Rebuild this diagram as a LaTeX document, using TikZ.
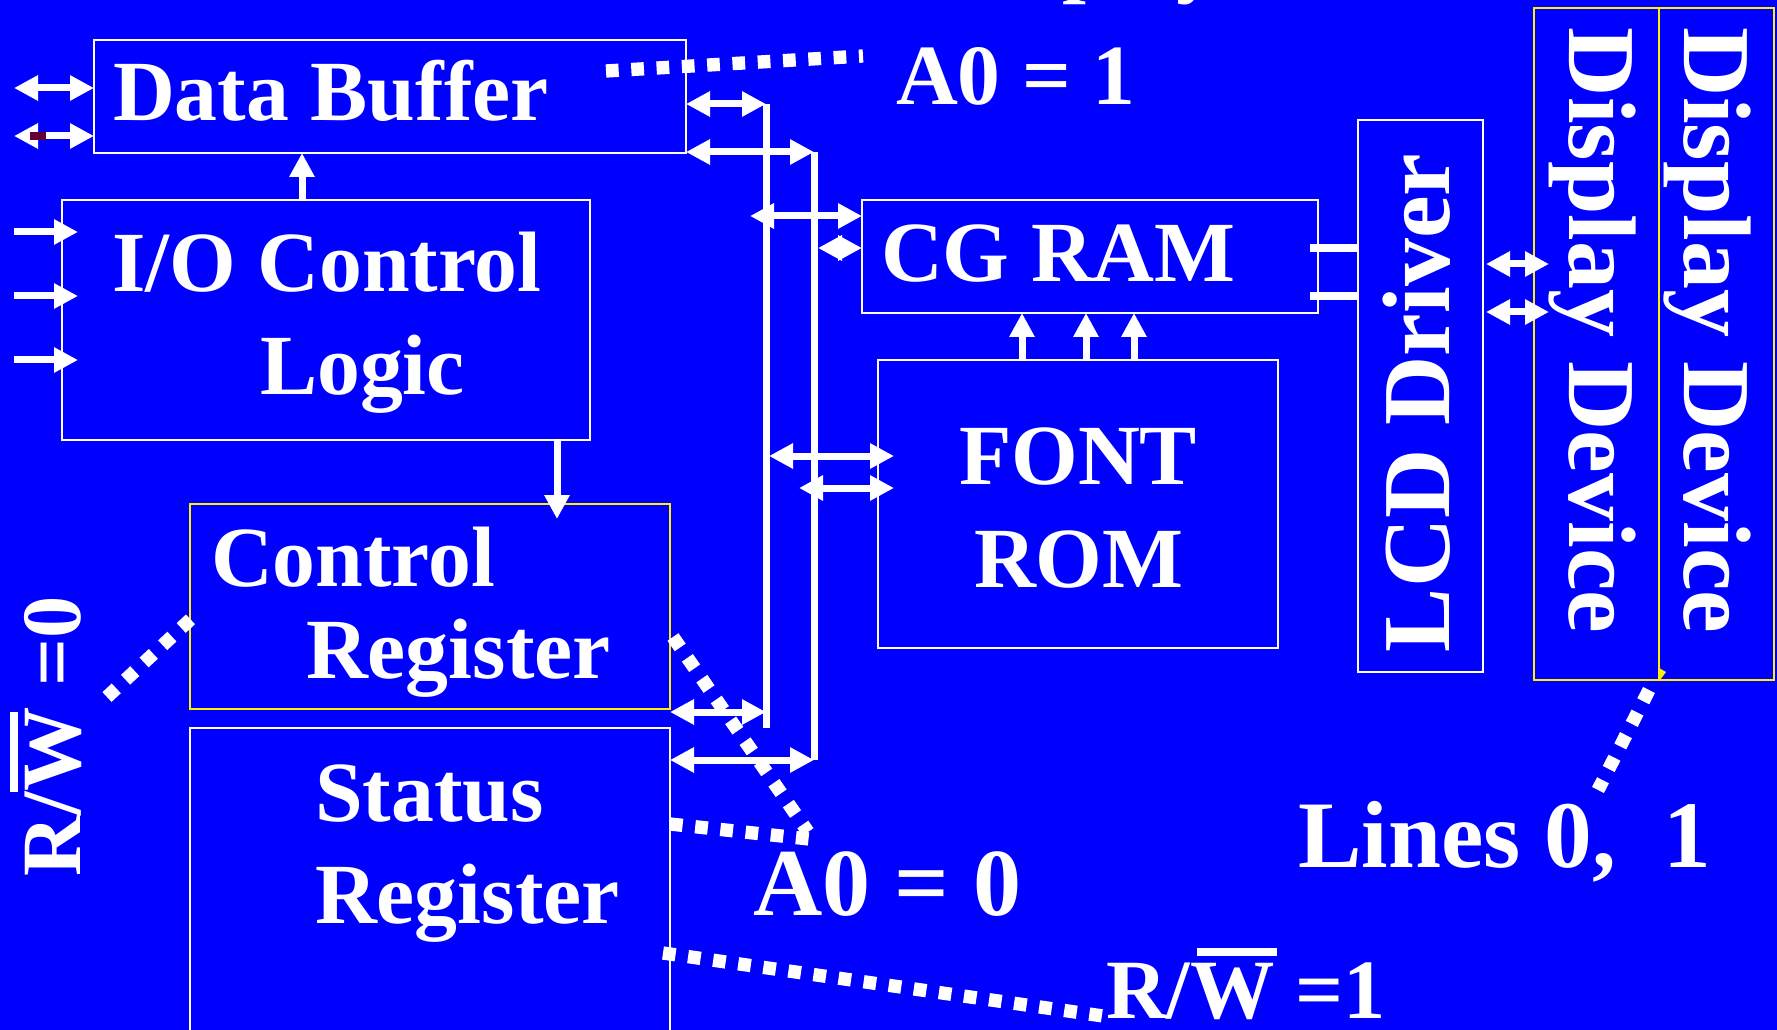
\documentclass[tikz,border=0pt]{standalone}
\usepackage{fontspec}
\usepackage{xcolor}
\usepackage{tikz}
\usetikzlibrary{arrows.meta}
\setmainfont{Liberation Serif}
\definecolor{stubred}{HTML}{660033}
\newcommand{\barW}[1]{\rlap{\hspace{#1}\rule[46.5pt]{60pt}{6pt}}W}
\tikzset{
	box/.style 2 args={draw=white, line width=1.5pt, inner sep=0pt, outer sep=0pt, anchor=north west, minimum width=#1*.75pt, minimum height=#2*.75pt},
	lbl/.style={text=white, inner sep=0pt, outer sep=0pt, anchor=base west, font=\fontsize{#1}{#1}\selectfont\bfseries},
	lbl/.default=64.3,
	bus/.style={draw=white, line width=5.25pt},
	stub/.style={draw=white, line width=6pt},
	dbl/.style={bus, {Triangle[length=18pt,width=18pt]}-{Triangle[length=18pt,width=18pt]}},
	sgl/.style={bus, -{Triangle[length=18pt,width=18pt]}},
	dots/.style={draw=white, line width=10pt, dash pattern=on 9.5pt off 9.5pt}
}
\begin{document}
\begin{tikzpicture}[x=.75pt, y=-.75pt]
	\useasboundingbox (0,0) rectangle (1777,1030);
	\fill[blue] (0,0) rectangle (1777,1030);
	\node[box={592}{113}] (bufbox) at (94,40) {};
	\node[box={528}{240}] (iobox) at (62,200) {};
	\node[box={480}{205}, draw=yellow] (ctlbox) at (190,504) {};
	\node[box={480}{340}] (statbox) at (190,728) {};
	\node[box={456}{113}] (cgbox) at (862,200) {};
	\node[box={400}{288}] (fontbox) at (878,360) {};
	\node[box={125}{552}] (lcdbox) at (1358,120) {};
	\node[box={125}{672}, draw=yellow] (disA) at (1534,8) {};
	\node[box={115}{672}, draw=yellow] (disB) at (1659,8) {};
	\node[lbl] (tbuf) at (113,121) {Data Buffer};
	\node[lbl] (tio) at (112,292) {I/O Control};
	\node[lbl] (tlog) at (260,394) {Logic};
	\node[lbl] (tctl) at (211,586) {Control};
	\node[lbl] (tctr) at (306,678) {Register};
	\node[lbl] (tsta) at (315,821) {Status};
	\node[lbl] (tstr) at (315,923) {Register};
	\node[lbl] (tcg) at (881,282) {CG RAM};
	\node[lbl] (tfon) at (959,484) {FONT};
	\node[lbl] (trom) at (974,587) {ROM};
	\node[lbl] (tao) at (896,105) {A0 = 1};
	\node[lbl] (ttop) at (943,-13) {Display};
	\node[lbl=72] (taz) at (753,915) {A0 = 0};
	\node[lbl=71.5] (tlin) at (1298,867) {Lines 0,\ \ 1};
	\node[lbl=63.3] (trwo) at (1106,1018) {R/\barW{5pt} =1};
	\node[lbl=63.3, rotate=90] (trwz) at (80,876) {R/\barW{0pt} =0};
	\node[lbl=72, rotate=90] (tlcd) at (1449,652) {LCD Driver};
	\node[lbl=72, rotate=-90] (tdisA) at (1569,28) {Display Device};
	\node[lbl=72, rotate=-90] (tdisB) at (1684,28) {Display Device};
	\foreach \n/\x/\y in {
		busAt/766/104, busAb/766/728, busBt/814/152, busBb/814/760,
		pa/14/88, pb/14/136, pc/750/216, pd/818/248, pe/769/456, pf/799/488,
		pg/1310/248, ph/1310/296, pi/1486/264, pj/1486/312, pk/894/456, pl/894/488,
		pm/557/519, pn/1549/264, po/1549/312,
		dA/606/71, dB/863/56, dC/107/697, dD/193/617, dE/673/637, dF/808/832,
		dG/670/824, dH/809/839, dI/663/953, dJ/1103/1016, dK/1649/690, dL/1598/790
	} \coordinate (\n) at (\x,\y);
	\draw[bus] (busAt) -- (busAb);
	\draw[bus] (busBt) -- (busBb);
	\draw[dbl] (pa) -- (bufbox.west |- pa);
	\draw[dbl] (pb) -- (bufbox.west |- pb);
	\fill[stubred] (30,132) rectangle (46,140);
	\draw[dbl] (bufbox.east |- busAt) -- (busAt);
	\draw[dbl] (bufbox.east |- busBt) -- (busBt);
	\draw[dbl] (ctlbox.east |- 0,712) -- (busAb |- 0,712);
	\draw[dbl] (statbox.east |- busBb) -- (busBb);
	\draw[sgl] (iobox.north -| 302,0) -- (bufbox.south -| 302,0);
	\draw[sgl] (iobox.south -| pm) -- (pm);
	\foreach \y in {232,296,360} {
		\coordinate (in\y) at (14,\y);
		\coordinate (ine\y) at (78,\y);
		\draw[sgl] (in\y) -- (ine\y);
	}
	\draw[dbl] (pc) -- (cgbox.west |- pc);
	\draw[dbl] (pd) -- (cgbox.west |- pd);
	\draw[dbl] (pe) -- (pk);
	\draw[dbl] (pf) -- (pl);
	\foreach \x in {1022,1086,1134}
		\draw[sgl] (fontbox.north -| \x,0) -- (cgbox.south -| \x,0);
	\draw[stub] (pg) -- (lcdbox.west |- pg);
	\draw[stub] (ph) -- (lcdbox.west |- ph);
	\draw[dbl] (pi) -- (pn);
	\draw[dbl] (pj) -- (po);
	\draw[dots] (dA) -- (dB);
	\draw[dots] (dC) -- (dD);
	\draw[dots] (dE) -- (dF);
	\draw[dots] (dG) -- (dH);
	\draw[dots] (dI) -- (dJ);
	\draw[dots] (dK) -- (dL);
	\fill[yellow] (1659,668) -- (1666,672) -- (1660,680) -- cycle;
\end{tikzpicture}
\end{document}
